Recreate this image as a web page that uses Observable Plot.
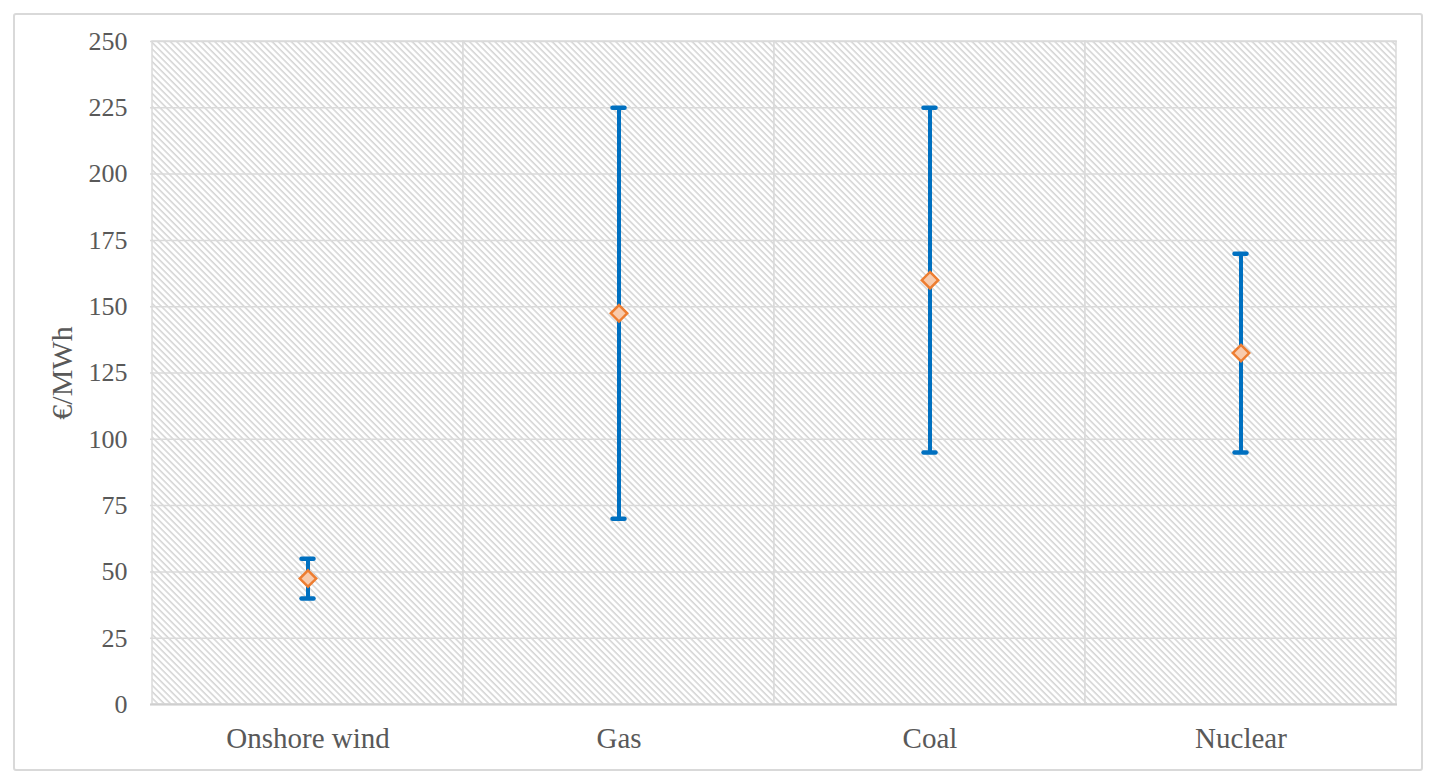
<!DOCTYPE html>
<html>
<head>
<meta charset="utf-8">
<script src="https://cdn.jsdelivr.net/npm/d3@7"></script>
<script src="https://cdn.jsdelivr.net/npm/@observablehq/plot@0.6"></script>
<style>
  body { margin: 0; background: #fff; }
  #wrap { position: relative; width: 1437px; height: 783px; }
  #border { position: absolute; left: 13px; top: 13px; width: 1406px; height: 754px;
            border: 2px solid #d9d9d9; border-radius: 3px; pointer-events: none; }
</style>
</head>
<body>
<div id="wrap"><div id="border"></div><div id="chart"></div></div>
<script>
// cost ranges per technology, €/MWh
const categories = ["Onshore wind", "Gas", "Coal", "Nuclear"]
const lows  = [40, 70, 95, 95]
const highs = [55, 225, 225, 170]
const mids  = [47.5, 147.5, 160, 132.5]
const yTicks = [0, 25, 50, 75, 100, 125, 150, 175, 200, 225, 250]

const data = categories.map((c, i) => ({cat: c, low: lows[i], high: highs[i], mid: mids[i]}))

let chart = Plot.plot({
  width: 1437,
  height: 783,
  marginLeft: 150,
  marginRight: 40,
  marginTop: 41,
  marginBottom: 79,
  style: {
    color: "#595959",
    fontFamily: "Liberation Serif",
    fontSize: "29px",
    background: "transparent"
  },
  x: {
    domain: categories,
    padding: 0,
    tickSize: 0,
    tickPadding: 23,
    label: null
  },
  y: {
    domain: [0, 250],
    ticks: yTicks,
    tickSize: 0,
    tickPadding: 23,
    label: null
  },
  marks: [
    Plot.cell(categories, {x: d => d, fill: "url(#hatch)", stroke: "#dadada", strokeWidth: 1.5}),
    Plot.ruleY(yTicks, {stroke: "#dadada", strokeWidth: 1.5}),
    Plot.ruleY([0], {stroke: "#cfcfcf", strokeWidth: 2}),
    Plot.ruleX(data, {x: "cat", y1: "low", y2: "high", stroke: "#0070C0", strokeWidth: 4}),
    Plot.tickY(data, {x: "cat", y: "low", stroke: "#0070C0", strokeWidth: 4.5, strokeLinecap: "round", insetLeft: 149.5, insetRight: 149.5}),
    Plot.tickY(data, {x: "cat", y: "high", stroke: "#0070C0", strokeWidth: 4.5, strokeLinecap: "round", insetLeft: 149.5, insetRight: 149.5}),
    Plot.dot(data, {x: "cat", y: "mid", symbol: "diamond2", r: 7.4, fill: "#F8CBAD", stroke: "#ED7D31", strokeWidth: 2.5}),
    Plot.text(["€/MWh"], {frameAnchor: "left", textAnchor: "middle", rotate: -90, dx: -88, fontSize: 30, fill: "#595959"})
  ]
})

// y tick labels are a bit smaller than the category labels
d3.select(chart).selectAll('g[aria-label^="y-axis"] text').style("font-size", "26px")

// diagonal hatch used as plot background
const defs = d3.select(chart).insert("defs", ":first-child")
const pat = defs.append("pattern")
  .attr("id", "hatch")
  .attr("patternUnits", "userSpaceOnUse")
  .attr("width", 4.5)
  .attr("height", 4.5)
  .attr("patternTransform", "rotate(-45)")
pat.append("rect").attr("width", 4.5).attr("height", 4.5).attr("fill", "#ffffff")
pat.append("line").attr("x1", 1).attr("y1", 0).attr("x2", 1).attr("y2", 4.5)
  .attr("stroke", "#cdcdcd").attr("stroke-width", 1.3)

d3.select("#chart").append(() => chart)
</script>
</body>
</html>
